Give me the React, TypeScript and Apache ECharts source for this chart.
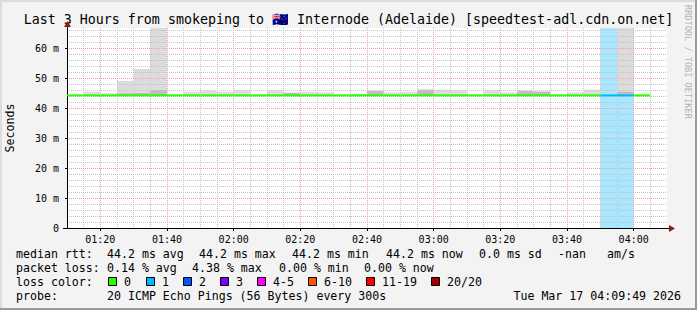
import React, { useEffect, useRef } from 'react';
import * as echarts from 'echarts';

// ---- data ----
const titleText = 'Last 3 Hours from smokeping to 🇦🇺 Internode (Adelaide) [speedtest-adl.cdn.on.net]';
const slotStarts = [
  '01:10', '01:15', '01:20', '01:25', '01:30', '01:35', '01:40', '01:45', '01:50', '01:55',
  '02:00', '02:05', '02:10', '02:15', '02:20', '02:25', '02:30', '02:35', '02:40', '02:45',
  '02:50', '02:55', '03:00', '03:05', '03:10', '03:15', '03:20', '03:25', '03:30', '03:35',
  '03:40', '03:45', '03:50', '03:55', '04:00',
];
// top of the light smoke (ms)
const smokeTop = [
  null, 45.4, 44.9, 49.0, 53.0, 75.0, null, 45.4, 45.8, 45.4,
  45.9, null, 45.9, 45.2, 45.4, 45.2, null, 44.8, 45.9, 45.2,
  45.4, 46.1, 46.1, 45.9, null, 45.9, 45.2, 45.9, 45.6, null,
  45.2, 46.1, null, 75.0, null,
];
// top of the darker smoke (ms)
const smokeDark = [
  null, null, null, 44.9, 45.0, 46.0, null, null, null, null,
  null, null, null, 45.0, null, null, null, null, 45.6, null,
  null, 46.1, null, null, null, null, null, 45.6, 45.4, null,
  null, null, null, 45.4, null,
];
const smokeMin = 44.2;
const medianRtt = [
  44.2, 44.2, 44.2, 44.2, 44.2, 44.2, 44.2, 44.2, 44.2, 44.2,
  44.2, 44.2, 44.2, 44.2, 44.2, 44.2, 44.2, 44.2, 44.2, 44.2,
  44.2, 44.2, 44.2, 44.2, 44.2, 44.2, 44.2, 44.2, 44.2, 44.2,
  44.2, 44.2, 44.2, 44.2, 44.2,
];
const lossCount = [
  0, 0, 0, 0, 0, 0, 0, 0, 0, 0,
  0, 0, 0, 0, 0, 0, 0, 0, 0, 0,
  0, 0, 0, 0, 0, 0, 0, 0, 0, 0,
  0, 0, 1, 1, 0,
];
const yUnit = 'm';
const yTitle = 'Seconds';
const statsRtt = ['median rtt:', '44.2 ms avg', '44.2 ms max', '44.2 ms min', '44.2 ms now', '0.0 ms sd', '-nan', 'am/s'];
const statsLoss = ['packet loss:', '0.14 % avg', '4.38 % max', '0.00 % min', '0.00 % now'];
const lossLegendTitle = 'loss color:';
const lossLegendLabels = ['0', '1', '2', '3', '4-5', '6-10', '11-19', '20/20'];
const lossLegendColors = ['#26ff00', '#00b8ff', '#0059ff', '#7e00ff', '#ff00ff', '#ff5500', '#ff0000', '#a10000'];
const probeLabel = 'probe:';
const probeText = '20 ICMP Echo Pings (56 Bytes) every 300s';
const dateText = 'Tue Mar 17 04:09:49 2026';
const watermark = 'RRDTOOL / TOBI OETIKER';

// ---- helpers ----
const SLOT = 5;
const toMin = (s: string) => { const [h, m] = s.split(':').map(Number); return h * 60 + m; };
const fmtMin = (v: number) => {
  const h = Math.floor(v / 60), m = Math.round(v % 60);
  return `${String(h).padStart(2, '0')}:${String(m).padStart(2, '0')}`;
};
const X_MIN = toMin(slotStarts[0]);
const X_MAX = X_MIN + 180;
const Y_MAX = 200 / 3;
const MONO = '"DejaVu Sans Mono", monospace';
const lossBgColors = ['transparent', '#a8e7ff', '#8fb5ff', '#c59bff', '#ff9bff', '#ffb88f', '#ff9b9b', '#d08080'];
const lossLineColors = ['#26ff00', '#00b8ff', '#0059ff', '#7e00ff', '#ff00ff', '#ff5500', '#ff0000', '#a10000'];

export default function App() {
  const ref = useRef<HTMLDivElement>(null);
  useEffect(() => {
    document.body.style.margin = '0';
    const chart = echarts.init(ref.current!, null, { renderer: 'svg' });

    const smokeData: any[] = [];
    slotStarts.forEach((s, i) => {
      const t = toMin(s);
      if (smokeTop[i] != null) smokeData.push([t, t + SLOT, smokeMin, smokeTop[i], 0]);
      if (smokeDark[i] != null) smokeData.push([t, t + SLOT, smokeMin, smokeDark[i], 1]);
    });
    const lossData: any[] = [];
    slotStarts.forEach((s, i) => {
      const t = toMin(s);
      if (lossCount[i] > 0) lossData.push([t, t + SLOT, 0, Y_MAX, lossCount[i]]);
    });
    const medData = slotStarts.map((s, i) => [toMin(s), toMin(s) + SLOT, medianRtt[i], medianRtt[i], lossCount[i]]);

    const rectItem = (api: any, fill: string) => {
      const p0 = api.coord([api.value(0), api.value(3)]);
      const p1 = api.coord([api.value(1), api.value(2)]);
      return {
        type: 'rect',
        shape: { x: p0[0], y: p0[1], width: p1[0] - p0[0], height: p1[1] - p0[1] },
        style: { fill },
      };
    };

    const rows = [254, 268, 282, 296];
    const rttX = [16, 107, 199, 292, 386, 479, 558, 607];
    const lossX = [16, 107, 192, 279, 364];
    const boxX = [108, 146, 183, 220, 257, 308, 366, 431];
    const txt = (text: string, x: number, y: number, extra: any = {}) => ({
      type: 'text', x, y, silent: true,
      style: { text, fill: '#000', font: `11.6px ${MONO}`, textVerticalAlign: 'middle', ...extra },
    });

    const graphic: any[] = [
      // frame shades
      { type: 'rect', shape: { x: 0, y: 0, width: 697, height: 2 }, style: { fill: '#dcdcdc' }, z: -1 },
      { type: 'rect', shape: { x: 0, y: 0, width: 2, height: 310 }, style: { fill: '#dcdcdc' }, z: -1 },
      { type: 'rect', shape: { x: 0, y: 308, width: 697, height: 2 }, style: { fill: '#9a9a9a' }, z: 5 },
      { type: 'rect', shape: { x: 695, y: 0, width: 2, height: 310 }, style: { fill: '#9a9a9a' }, z: 5 },
      txt(titleText, 348.5, 19, { font: `13.3px ${MONO}`, textAlign: 'center' }),
      { type: 'text', x: 10, y: 128, rotation: Math.PI / 2, silent: true,
        style: { text: yTitle, fill: '#000', font: `11.6px ${MONO}`, textAlign: 'center', textVerticalAlign: 'middle' } },
      { type: 'text', x: 688, y: 5, rotation: -Math.PI / 2, silent: true,
        style: { text: watermark, fill: '#b4b4b4', font: `8.6px ${MONO}`, textVerticalAlign: 'middle' } },
      // arrows
      { type: 'line', shape: { x1: 67.5, y1: 28, x2: 67.5, y2: 24 }, style: { stroke: '#000', lineWidth: 1 }, z: 10 },
      { type: 'polygon', shape: { points: [[64, 27], [71, 27], [67.5, 21]] }, style: { fill: '#8b1a1a' }, z: 10 },
      { type: 'line', shape: { x1: 667, y1: 228.5, x2: 671, y2: 228.5 }, style: { stroke: '#000', lineWidth: 1 }, z: 10 },
      { type: 'polygon', shape: { points: [[669, 225], [669, 232], [675, 228.5]] }, style: { fill: '#8b1a1a' }, z: 10 },
      { type: 'line', shape: { x1: 63, y1: 228.5, x2: 67, y2: 228.5 }, style: { stroke: '#000', lineWidth: 1 }, z: 10 },
    ];
    statsRtt.forEach((s, i) => graphic.push(txt(s, rttX[i], rows[0])));
    statsLoss.forEach((s, i) => graphic.push(txt(s, lossX[i], rows[1])));
    graphic.push(txt(lossLegendTitle, 16, rows[2]));
    lossLegendLabels.forEach((s, i) => {
      graphic.push({ type: 'rect', shape: { x: boxX[i] + 0.5, y: rows[2] - 4.5, width: 8, height: 8 },
        style: { fill: lossLegendColors[i], stroke: '#000', lineWidth: 1 } });
      graphic.push(txt(s, boxX[i] + 16, rows[2]));
    });
    graphic.push(txt(probeLabel, 16, rows[3]));
    graphic.push(txt(probeText, 107, rows[3]));
    graphic.push(txt(dateText, 681, rows[3], { textAlign: 'right' }));

    const axisFont = { fontFamily: MONO, fontSize: 10, color: '#000' };

    chart.setOption({
      animation: false,
      backgroundColor: '#f3f3f3',
      grid: { left: 67, top: 28, width: 600, height: 200, show: true, backgroundColor: '#ffffff', borderWidth: 0 },
      xAxis: [
        {
          type: 'value', min: X_MIN, max: X_MAX, splitNumber: 9, minInterval: 20, maxInterval: 20,
          position: 'bottom', z: 6,
          axisLine: { show: true, onZero: false, lineStyle: { color: '#000', width: 1 } },
          axisTick: { show: true, length: 3, lineStyle: { color: '#000' } },
          axisLabel: { ...axisFont, margin: 6, formatter: (v: number) => fmtMin(v), showMinLabel: false, showMaxLabel: false },
          splitLine: { show: true, showMinLine: false, showMaxLine: false, lineStyle: { color: '#eda0a0', width: 1, type: [1, 1] } },
        },
        {
          type: 'value', min: X_MIN, max: X_MAX, interval: 5, position: 'bottom', z: 5,
          axisLine: { show: false }, axisTick: { show: false }, axisLabel: { show: false },
          splitLine: { show: true, showMinLine: false, showMaxLine: false, lineStyle: { color: '#c4c4c4', width: 1, type: [1, 1] } },
        },
      ],
      yAxis: [
        {
          type: 'value', min: 0, max: Y_MAX, interval: 10, position: 'left', z: 6,
          axisLine: { show: true, onZero: false, lineStyle: { color: '#000', width: 1 } },
          axisTick: { show: true, length: 2, lineStyle: { color: '#000' } },
          axisLabel: { ...axisFont, margin: 8, showMaxLabel: false, formatter: (v: number) => (v === 0 ? '0' : `${Math.round(v)} ${yUnit}`) },
          splitLine: { show: true, showMinLine: false, showMaxLine: false, lineStyle: { color: '#eda0a0', width: 1, type: [1, 1] } },
        },
        {
          type: 'value', min: 0, max: Y_MAX, interval: 2, position: 'left', z: 5,
          axisLine: { show: false }, axisTick: { show: false }, axisLabel: { show: false },
          splitLine: { show: true, showMinLine: false, showMaxLine: false, lineStyle: { color: '#c4c4c4', width: 1, type: [1, 1] } },
        },
      ],
      series: [
        {
          type: 'custom', name: 'loss', xAxisIndex: 0, yAxisIndex: 0, z: 1, clip: true,
          encode: { x: [0, 1], y: [2, 3] }, data: lossData,
          renderItem: (p: any, api: any) => rectItem(api, lossBgColors[api.value(4)]),
        },
        {
          type: 'custom', name: 'smoke', xAxisIndex: 0, yAxisIndex: 0, z: 2, clip: true,
          encode: { x: [0, 1], y: [2, 3] }, data: smokeData,
          renderItem: (p: any, api: any) => rectItem(api, api.value(4) === 1 ? '#bdbdbd' : '#dcdcdc'),
        },
        {
          type: 'custom', name: 'median', xAxisIndex: 0, yAxisIndex: 0, z: 10, clip: true,
          encode: { x: [0, 1], y: [2, 3] }, data: medData,
          renderItem: (p: any, api: any) => {
            const a = api.coord([api.value(0), api.value(2)]);
            const b = api.coord([api.value(1), api.value(2)]);
            return {
              type: 'line', shape: { x1: a[0], y1: a[1], x2: b[0], y2: b[1] },
              style: { stroke: lossLineColors[api.value(4)], lineWidth: 2 },
            };
          },
        },
      ],
      graphic,
    });
    return () => chart.dispose();
  }, []);
  return <div ref={ref} style={{ position: 'absolute', left: 0, top: 0, width: 697, height: 310 }} />;
}
